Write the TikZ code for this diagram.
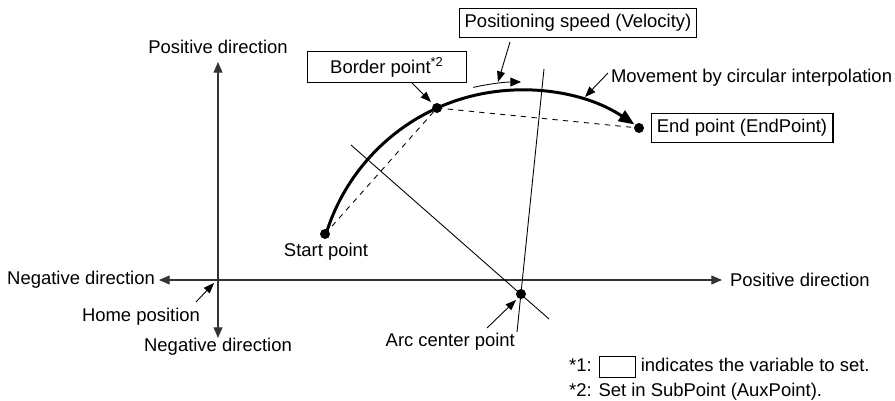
\documentclass[tikz,border=0pt]{standalone}
\usepackage{fontspec}
\setmainfont{Liberation Sans}
\usetikzlibrary{calc, arrows.meta, positioning}

\begin{document}
\begin{tikzpicture}[x=0.02cm, y=0.02cm, font=\fontsize{10.5}{12}\selectfont,
    axisTip/.style={-{Triangle[length=6pt,width=5pt]}},
    ptr/.style={line width=0.5pt, -{Triangle[length=6pt,width=4.5pt]}},
    lbl/.style={inner sep=1pt},
    boxLbl/.style={draw, line width=0.6pt, inner xsep=3pt, minimum height=0.58cm},
    dot/.style={circle, fill, inner sep=0pt, minimum size=2mm}]
    % Define colors
    \definecolor{axisColour}{HTML}{333333}
    \definecolor{textColour}{HTML}{231F20}

    % Define arc radius
    \def\arcRadius{204}

    % Fix picture size
    \useasboundingbox (0,0) rectangle (895,401);

    % Axis points
    \coordinate (Home) at (218,121);
    \coordinate (xNeg) at (159,121);
    \coordinate (xPos) at (722,121);
    \coordinate (yPos) at (218,339);
    \coordinate (yNeg) at (218,63);

    % Draw axes
    \draw[axisColour, line width=0.6pt, axisTip] (Home) -- (xNeg);
    \draw[axisColour, line width=0.6pt, axisTip] (Home) -- (xPos);
    \draw[axisColour, line width=0.6pt, axisTip] (Home) -- (yPos);
    \draw[axisColour, line width=0.6pt, axisTip] (Home) -- (yNeg);

    % Axis labels
    \node[lbl, anchor=east] (xNegLabel) at (157,121) {Negative direction};
    \node[lbl, anchor=west] (xPosLabel) at (728,121) {Positive direction};
    \node[lbl] (yPosLabel) at (218,354) {Positive direction};
    \node[lbl] (yNegLabel) at (218,54) {Negative direction};
    \node[lbl] (homeLabel) at (141,84) {Home position};
    \coordinate (homeTail) at (196,99);
    \coordinate (homeTip) at (214,118);
    \draw[ptr] (homeTail) -- (homeTip);

    % Points of the arc
    \coordinate (Center) at (521,107);
    \node[dot] (startPt) at (325,167) {};
    \node[dot] (borderPt) at (437,293) {};
    \node[dot] (endPt) at (639,273) {};
    \node[dot] (centerPt) at (Center) {};

    % Chords
    \draw[dashed, line width=0.5pt] (startPt.center) -- (borderPt.center) -- (endPt.center);

    % Perpendicular bisectors
    \coordinate (bisA1) at (351,256);
    \coordinate (bisA2) at (549,82);
    \coordinate (bisB1) at (544,332);
    \coordinate (bisB2) at (517,69);
    \draw[line width=0.5pt] (bisA1) -- (bisA2);
    \draw[line width=0.5pt] (bisB1) -- (bisB2);

    % Draw the arc from start to end point
    \draw[line width=1.7pt, -{Triangle[length=9pt,width=7pt]}]
        (Center) ++(163:\arcRadius) arc[start angle=163, end angle=56.2, radius=\arcRadius];

    % Direction of movement
    \draw[line width=0.5pt, -{Triangle[length=6pt,width=5pt]}]
        (Center) ++(103:212) arc[start angle=103, end angle=90, radius=212];

    % Labels with boxes
    \node[boxLbl, minimum width=4.66cm] (velLabel) at (578,378) {Positioning speed (Velocity)};
    \coordinate (velTail) at (510,359);
    \coordinate (velTip) at (498,319);
    \draw[ptr] (velTail) -- (velTip);

    \node[boxLbl, minimum width=3.18cm] (borderLabel) at (387,334) {Border point\textsuperscript{*2}};
    \coordinate (borderTail) at (412,318);
    \coordinate (borderTip) at (431,299);
    \draw[ptr] (borderTail) -- (borderTip);

    \node[boxLbl, minimum width=3.64cm] (endLabel) at (742,273) {End point (EndPoint)};

    % Plain labels
    \node[lbl, anchor=west] (moveLabel) at (609,323) {Movement by circular interpolation};
    \coordinate (moveTail) at (608,328);
    \coordinate (moveTip) at (585,304);
    \draw[ptr] (moveTail) -- (moveTip);

    \node[lbl] (startLabel) at (326,149) {Start point};

    \node[lbl, anchor=east] (centerLabel) at (517,59) {Arc center point};
    \coordinate (centerTail) at (487,73);
    \coordinate (centerTip) at (516,101);
    \draw[ptr] (centerTail) -- (centerTip);

    % Notes
    \node[lbl, anchor=west] (noteOne) at (567,34)
        {*1: \raisebox{-3pt}{\fboxsep=0pt\fboxrule=0.6pt\fbox{\rule{0pt}{11pt}\hspace{20pt}}} indicates the variable to set.};
    \node[lbl, anchor=west] (noteTwo) at (567,9) {*2: Set in SubPoint (AuxPoint).};

\end{tikzpicture}
\end{document}
